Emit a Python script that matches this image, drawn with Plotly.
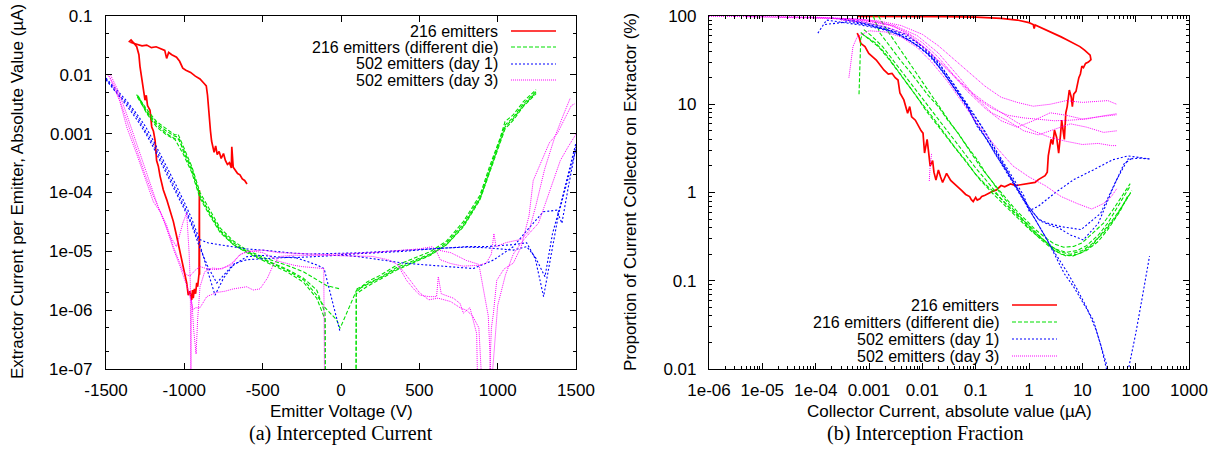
import plotly.graph_objects as go

# ================= (a) Intercepted Current =================
# Emitter voltage (V) vs extractor current per emitter (uA)
red_top_v = [-1355, -1340, -1320, -1300, -1270, -1240, -1210, -1180, -1150, -1125, -1113, -1100, -1080, -1050, -1030, -1010, -990, -960, -930, -900, -875, -860, -852, -846, -840, -833, -826, -818, -810, -800, -790, -778, -765, -750, -738, -725, -712, -700, -697, -688, -675, -660, -645, -630, -615, -600]
red_top_i = [0.036, 0.039, 0.034, 0.033, 0.031, 0.032, 0.029, 0.030, 0.028, 0.026, 0.019, 0.024, 0.022, 0.020, 0.017, 0.013, 0.012, 0.011, 0.0095, 0.0085, 0.0072, 0.0065, 0.0045, 0.0025, 0.0016, 0.0011, 0.00075, 0.00055, 0.00048, 0.00062, 0.00044, 0.00050, 0.00038, 0.00046, 0.00035, 0.00030, 0.00032, 0.00026, 0.00060, 0.00027, 0.00024, 0.00021, 0.00020, 0.00017, 0.00016, 0.00014]
red_dn_v = [-1345, -1320, -1304, -1290, -1283, -1270, -1262, -1251, -1243, -1235, -1219, -1208, -1197, -1187, -1177, -1166, -1155, -1134, -1112, -1091, -1070, -1049, -1033, -1017, -1001, -985, -975, -965, -953, -948, -943, -936, -928, -921, -915, -911, -906, -904, -903]
red_dn_i = [0.036, 0.034, 0.030, 0.022, 0.0138, 0.0085, 0.0055, 0.0037, 0.0045, 0.0030, 0.0025, 0.0013, 0.0011, 0.00078, 0.00035, 0.00028, 0.00019, 0.00011, 0.000075, 0.00005, 0.000032, 0.000018, 0.000011, 0.0000071, 0.0000045, 0.0000029, 0.0000018, 0.0000021, 0.0000015, 0.0000022, 0.0000016, 0.0000023, 0.0000019, 0.0000029, 0.0000025, 0.0000037, 0.0000042, 0.00011, 0.0000040]

grn1_neg_v = [-1305, -1240, -1177, -1113, -1060, -1040, -1007, -953, -900, -836, -772, -687, -602, -474, -347, -240, -155, -90, -5]
grn1_neg_i = [0.0046, 0.0026, 0.0016, 0.0012, 0.00095, 0.00098, 0.00060, 0.00028, 0.00010, 0.000050, 0.000025, 0.000015, 0.0000105, 0.0000075, 0.0000058, 0.0000045, 0.0000033, 0.0000026, 0.0000023]
grn1_pos_v = [96, 97, 164, 249, 355, 461, 568, 674, 781, 887, 951, 1014, 1047, 1100, 1164, 1245]
grn1_pos_i = [0.00000005, 0.0000020, 0.0000030, 0.0000039, 0.0000058, 0.0000075, 0.0000098, 0.000015, 0.000032, 0.000090, 0.00029, 0.00082, 0.0016, 0.0021, 0.0035, 0.0056]
grn2_neg_v = [-1300, -1240, -1177, -1113, -1060, -1030, -1007, -953, -900, -836, -772, -687, -602, -474, -347, -240, -155, -102, -100]
grn2_neg_i = [0.0042, 0.0023, 0.0014, 0.0010, 0.00082, 0.00080, 0.00050, 0.00024, 0.000085, 0.000045, 0.000023, 0.000014, 0.0000100, 0.0000070, 0.0000050, 0.0000035, 0.0000022, 0.0000009, 0.00000005]
grn2_pos_v = [100, 164, 249, 355, 461, 568, 674, 781, 887, 951, 1014, 1047, 1100, 1164, 1245]
grn2_pos_i = [0.0000023, 0.0000028, 0.0000036, 0.0000053, 0.0000069, 0.0000090, 0.000014, 0.000029, 0.000082, 0.00026, 0.00075, 0.0014, 0.0019, 0.0032, 0.0052]
grn3_neg_v = [-1295, -1240, -1177, -1113, -1060, -1045, -1007, -953, -900, -836, -772, -687, -602, -474, -347, -240, -155, -102, -27, -6]
grn3_neg_i = [0.0044, 0.0024, 0.0015, 0.0011, 0.00090, 0.00088, 0.00055, 0.00026, 0.000090, 0.000043, 0.000022, 0.000013, 0.0000098, 0.0000068, 0.0000048, 0.0000033, 0.0000018, 0.0000011, 0.00000068, 0.00000049]
grn3_pos_v = [100, 164, 249, 355, 461, 568, 674, 781, 887, 951, 1014, 1047, 1100, 1164, 1245]
grn3_pos_i = [0.0000022, 0.0000027, 0.0000035, 0.0000050, 0.0000066, 0.0000087, 0.000013, 0.000027, 0.000078, 0.00024, 0.00070, 0.0013, 0.0018, 0.0030, 0.0050]
grn4_neg_v = [-1290, -1240, -1177, -1113, -1060, -1007, -953, -900, -836, -772, -687, -602, -474, -347, -240, -155, -102, -100]
grn4_neg_i = [0.0040, 0.0022, 0.0013, 0.00095, 0.00080, 0.00045, 0.00022, 0.000080, 0.000040, 0.000021, 0.000013, 0.0000095, 0.0000065, 0.0000045, 0.0000030, 0.0000016, 0.0000007, 0.00000005]
grn4_pos_v = [96, 98, 164, 249, 355, 461, 568, 674, 781, 887, 951, 1014, 1047, 1100, 1164, 1245]
grn4_pos_i = [0.00000005, 0.0000019, 0.0000025, 0.0000033, 0.0000048, 0.0000064, 0.0000085, 0.000013, 0.000026, 0.000075, 0.00023, 0.00066, 0.0012, 0.0017, 0.0029, 0.0048]

blu1_v = [-1500, -1430, -1368, -1300, -1246, -1200, -1148, -1100, -1051, -1000, -953, -904, -850, -780, -700, -602, -500, -400, -300, -200, -100, 0, 100, 200, 300, 400, 500, 610, 700, 800, 930, 1000, 1100, 1185, 1240, 1293, 1340, 1390, 1440, 1500]
blu1_i = [0.0088, 0.0055, 0.0036, 0.0021, 0.0013, 0.00078, 0.00042, 0.00024, 0.00013, 0.000068, 0.000036, 0.000016, 0.000014, 0.000013, 0.000012, 0.000011, 0.0000105, 0.0000098, 0.0000093, 0.0000090, 0.0000091, 0.0000092, 0.0000094, 0.0000097, 0.0000100, 0.0000104, 0.0000108, 0.000011, 0.0000115, 0.000012, 0.000012, 0.0000125, 0.000013, 0.000014, 0.0000075, 0.0000017, 0.000008, 0.000045, 0.00014, 0.00055]
blu2_v = [-1500, -1430, -1368, -1300, -1246, -1200, -1148, -1100, -1051, -1000, -953, -904, -850, -793, -700, -602, -500, -400, -300, -200, -100, 0, 100, 200, 300, 400, 500, 600, 700, 845, 973, 1040, 1100, 1200, 1291, 1377, 1410, 1450, 1500]
blu2_i = [0.0082, 0.0048, 0.0030, 0.0017, 0.0010, 0.00060, 0.00032, 0.00018, 0.00010, 0.000052, 0.000028, 0.000012, 0.0000055, 0.0000029, 0.0000055, 0.0000081, 0.0000085, 0.0000080, 0.0000078, 0.0000080, 0.0000083, 0.0000086, 0.0000082, 0.0000075, 0.0000068, 0.0000063, 0.0000060, 0.0000057, 0.0000054, 0.0000051, 0.0000071, 0.0000095, 0.000012, 0.000025, 0.000047, 0.000050, 0.000030, 0.00012, 0.00060]
blu3_v = [-1500, -1430, -1368, -1300, -1246, -1200, -1148, -1100, -1051, -1000, -953, -904, -850, -804, -750, -680, -602, -500, -400, -300, -200, -150, -108, -6]
blu3_i = [0.0085, 0.0050, 0.0033, 0.0019, 0.0011, 0.00068, 0.00036, 0.00020, 0.00011, 0.000058, 0.000030, 0.000014, 0.0000045, 0.0000018, 0.0000035, 0.0000062, 0.0000072, 0.0000075, 0.0000078, 0.0000080, 0.0000065, 0.0000058, 0.0000051, 0.00000043]
blu4_v = [0, 200, 400, 610, 800, 930, 1000, 1100, 1185, 1240, 1302, 1350, 1400, 1450, 1500]
blu4_i = [0.0000088, 0.0000095, 0.000010, 0.0000112, 0.0000118, 0.0000115, 0.000011, 0.0000105, 0.000012, 0.000008, 0.0000037, 0.00002, 0.00006, 0.0002, 0.0007]

mag1_v = [-1490, -1474, -1411, -1368, -1304, -1240, -1198, -1150, -1113, -1070, -1028, -1007, -985, -964, -930, -900, -850, -790, -700, -650, -600, -500, -400, -300, -200, -100, 0, 100, 200, 300, 400, 500, 585, 610, 633, 700, 780, 880, 927, 960, 976, 990, 1050, 1100, 1150, 1200, 1244, 1300, 1366, 1420, 1463]
mag1_i = [0.0100, 0.0088, 0.0035, 0.0013, 0.00045, 0.00015, 0.00007, 0.000045, 0.000028, 0.000012, 0.0000065, 0.0000045, 0.0000040, 0.0000038, 0.0000048, 0.0000055, 0.0000050, 0.0000049, 0.0000058, 0.0000085, 0.0000100, 0.0000105, 0.0000095, 0.0000092, 0.0000090, 0.0000088, 0.0000090, 0.0000092, 0.0000095, 0.0000100, 0.0000105, 0.0000110, 0.0000120, 0.0000100, 0.0000072, 0.0000062, 0.0000056, 0.0000058, 0.0000063, 0.000009, 0.000020, 0.000012, 0.000014, 0.000015, 0.000016, 0.000022, 0.000060, 0.00025, 0.0009, 0.0021, 0.0040]
mag2_v = [-1480, -1440, -1400, -1350, -1300, -1250, -1200, -1150, -1100, -1050, -1010, -985, -970, -962, -958, -955, -945, -930, -900, -857, -793, -740, -687, -640, -602, -560, -517, -470, -432, -389, -300, -200, -100, 0, 100, 200, 300, 360, 419, 470, 504, 560, 610, 621, 640, 717, 760, 781, 823, 850, 866, 872]
mag2_i = [0.0095, 0.0060, 0.0030, 0.0012, 0.00050, 0.00020, 0.000090, 0.000045, 0.000020, 0.000012, 0.000030, 0.000045, 0.000010, 0.0000030, 0.00000005, 0.0000015, 0.0000010, 0.0000011, 0.0000011, 0.0000017, 0.0000020, 0.0000021, 0.0000023, 0.0000024, 0.0000025, 0.0000022, 0.0000023, 0.0000035, 0.0000059, 0.0000082, 0.0000086, 0.0000085, 0.0000086, 0.0000084, 0.0000083, 0.0000082, 0.0000072, 0.0000060, 0.0000032, 0.0000022, 0.0000018, 0.0000017, 0.0000017, 0.0000037, 0.0000019, 0.0000016, 0.0000013, 0.00000089, 0.0000011, 0.00000060, 0.00000040, 0.00000005]
mag3_v = [-1470, -1420, -1370, -1320, -1270, -1220, -1170, -1120, -1070, -1030, -1000, -975, -950, -940, -925, -915, -900, -870, -820, -760, -700, -640, -600, -550, -500, -450, -400, -350, -300, -250, -200, -150, -110, -105]
mag3_i = [0.0098, 0.0052, 0.0022, 0.00090, 0.00035, 0.00014, 0.000060, 0.000028, 0.000011, 0.0000058, 0.0000035, 0.0000022, 0.0000012, 0.00000045, 0.00000018, 0.00000070, 0.0000025, 0.0000045, 0.0000052, 0.0000050, 0.0000062, 0.0000090, 0.0000098, 0.0000100, 0.0000095, 0.0000082, 0.0000068, 0.0000062, 0.0000058, 0.0000055, 0.0000054, 0.0000052, 0.0000051, 0.00000005]
mag4_v = [360, 400, 450, 500, 560, 620, 700, 760, 800, 840, 880, 900, 930, 945, 951, 960, 973, 994, 1040, 1100, 1150, 1200, 1227, 1280, 1330, 1380, 1430, 1470, 1490]
mag4_i = [0.0000060, 0.0000045, 0.0000030, 0.0000020, 0.0000015, 0.0000016, 0.0000014, 0.0000011, 0.0000010, 0.0000008, 0.0000005, 0.00000005, 0.00000005, 0.00000005, 0.00000012, 0.0000005, 0.00000089, 0.0000032, 0.0000050, 0.0000063, 0.000012, 0.00004, 0.00016, 0.00035, 0.0007, 0.0010, 0.0018, 0.0030, 0.0032]
mag5_v = [620, 700, 800, 880, 940, 960, 1000, 1050, 1100, 1150, 1200, 1260, 1300, 1350, 1400, 1450, 1500]
mag5_i = [0.0000105, 0.0000095, 0.0000070, 0.0000060, 0.00000080, 0.00000005, 0.0000012, 0.0000040, 0.0000090, 0.000014, 0.000020, 0.000030, 0.000060, 0.00015, 0.00035, 0.00060, 0.00098]

# ================= (b) Interception Fraction =================
# Collector current (uA) vs proportion on extractor (%)
red_r_x = [0.0006, 0.001, 0.003, 0.01, 0.03, 0.1, 0.3, 0.6, 1.0, 1.2, 1.25, 1.3, 1.5, 2.0, 3.0, 4.0, 5.0, 7.0, 9.0, 11.0, 12.5, 14.0, 14.5, 13.0, 11.5, 10.5, 9.8, 9.2, 8.6, 8.2, 7.6, 6.9, 6.5, 6.2, 5.7, 5.2, 4.9, 4.6, 4.1, 3.9, 3.6, 3.3, 3.0, 2.8, 2.6, 2.3, 2.2, 2.0, 1.8, 1.5, 1.3, 1.1, 0.88, 0.7, 0.57, 0.45, 0.35, 0.3, 0.245, 0.2, 0.18, 0.15, 0.13, 0.12, 0.107, 0.1, 0.09, 0.083, 0.077, 0.065, 0.055, 0.047, 0.04, 0.034, 0.0285, 0.026, 0.024, 0.022, 0.02, 0.018, 0.0165, 0.0156, 0.014, 0.013, 0.0123, 0.011, 0.0103, 0.0095, 0.0087, 0.0074, 0.0063, 0.0058, 0.0053, 0.0045, 0.0038, 0.0035, 0.0031, 0.0027, 0.0023, 0.0019, 0.0016, 0.00137, 0.0012, 0.00099, 0.00084, 0.0007, 0.00065, 0.0006]
red_r_y = [99, 99, 99, 98.8, 98.3, 97, 94, 90, 84, 80, 72, 79, 76, 70, 64, 58, 54, 49, 45, 41, 38, 36, 32, 30, 29, 26, 27, 22, 20, 17, 14, 13, 9.4, 12, 14.5, 9.4, 8, 4, 6.6, 4.5, 2.8, 4.2, 5.1, 3.5, 4.0, 2.6, 1.7, 1.55, 1.5, 1.4, 1.3, 1.28, 1.26, 1.22, 1.2, 1.25, 1.16, 1.2, 1.07, 1.02, 0.98, 0.93, 0.9, 0.85, 0.82, 0.88, 0.79, 0.83, 0.9, 0.95, 1.05, 1.16, 1.25, 1.37, 1.65, 1.45, 1.3, 1.5, 1.8, 1.38, 1.7, 2.3, 2.0, 3.0, 4.0, 2.8, 4.7, 5.0, 5.6, 6.6, 7.2, 9.4, 7.9, 11.2, 13.4, 18.8, 20, 22.4, 22, 24.5, 28, 31.7, 34, 37.7, 45, 49, 58, 64]

grn_r1_x = [0.0012, 0.0016, 0.0025, 0.0038, 0.0060, 0.0087, 0.013, 0.02, 0.03, 0.047, 0.07, 0.107, 0.16, 0.245, 0.38, 0.57, 0.9, 1.31, 2.0, 3.0, 4.5, 6.9, 10, 16, 25, 37, 55, 79]
grn_r1_y = [100, 64, 45, 32, 23, 17.4, 12.5, 9.4, 6.6, 4.7, 3.3, 2.35, 1.6, 1.16, 0.85, 0.63, 0.48, 0.38, 0.31, 0.26, 0.24, 0.245, 0.27, 0.35, 0.45, 0.63, 0.9, 1.26]
grn_r2_x = [0.0007, 0.0010, 0.0015, 0.0025, 0.004, 0.0065, 0.01, 0.016, 0.025, 0.04, 0.065, 0.1, 0.16, 0.25, 0.4, 0.65, 1.0, 1.6, 2.5, 4.0, 6.5, 10, 16, 25, 40, 65, 85]
grn_r2_y = [65, 55, 45, 31, 21, 14.5, 10, 7, 4.8, 3.3, 2.3, 1.6, 1.2, 0.95, 0.7, 0.52, 0.4, 0.3, 0.24, 0.2, 0.19, 0.21, 0.26, 0.36, 0.52, 0.8, 1.05]
grn_r3_x = [0.00065, 0.00068, 0.0007, 0.00075, 0.0009, 0.0013, 0.002, 0.003, 0.005, 0.008, 0.012, 0.02, 0.03, 0.05, 0.08, 0.12, 0.2, 0.3, 0.5, 0.8, 1.2, 2.0, 3.0, 5.0, 8.0, 12, 20, 30, 50, 70]
grn_r3_y = [13, 30, 55, 62, 58, 50, 38, 27, 18, 12, 8.3, 5.6, 4.0, 2.7, 1.9, 1.4, 1.0, 0.78, 0.58, 0.44, 0.35, 0.28, 0.22, 0.19, 0.2, 0.22, 0.28, 0.38, 0.6, 0.9]
grn_r4_x = [0.0015, 0.002, 0.003, 0.005, 0.008, 0.012, 0.02, 0.03, 0.05, 0.08, 0.12, 0.2, 0.3, 0.5, 0.8, 1.2, 2.0, 3.0, 5.0, 8.0, 12, 20, 30, 50, 80]
grn_r4_y = [100, 75, 52, 33, 22, 15, 9.8, 6.8, 4.4, 2.9, 2.0, 1.35, 0.95, 0.65, 0.48, 0.37, 0.28, 0.23, 0.21, 0.22, 0.25, 0.33, 0.45, 0.75, 1.2]
grn_r5_x = [0.0008, 0.0011, 0.0018, 0.003, 0.005, 0.008, 0.013, 0.02, 0.035, 0.06, 0.1, 0.17, 0.3, 0.5, 0.9, 1.5, 2.5, 4, 6, 10, 15, 25, 40, 60, 80]
grn_r5_y = [70, 60, 45, 30, 20, 14, 9.5, 6.8, 4.3, 2.8, 1.9, 1.3, 0.85, 0.62, 0.45, 0.33, 0.25, 0.21, 0.2, 0.22, 0.26, 0.35, 0.5, 0.75, 1.0]

blu_r1_x = [0.00011, 0.00016, 0.0003, 0.0007, 0.0016, 0.0038, 0.0087, 0.0144, 0.02, 0.031, 0.047, 0.071, 0.107, 0.163, 0.245, 0.37, 0.57, 0.86, 1.31, 2.0, 3.0, 4.6, 6.9, 10.5, 16, 22, 29]
blu_r1_y = [64, 90, 85, 79, 72, 61, 45, 35, 27, 19, 13.3, 9.4, 5.6, 4.0, 2.6, 1.8, 1.16, 0.75, 0.49, 0.32, 0.2, 0.12, 0.085, 0.056, 0.036, 0.019, 0.0095]
blu_r2_x = [0.0002, 0.0005, 0.001, 0.002, 0.004, 0.008, 0.013, 0.02, 0.03, 0.05, 0.08, 0.12, 0.2, 0.3, 0.5, 0.8, 1.0, 1.5, 3.0, 6.9, 16, 37, 72, 120, 182]
blu_r2_y = [95, 88, 80, 72, 63, 50, 40, 30, 21, 13, 8.5, 6.0, 3.6, 2.4, 1.45, 0.92, 0.62, 0.70, 0.98, 1.4, 1.8, 2.35, 2.6, 2.5, 2.4]
blu_r3_x = [0.0003, 0.0008, 0.0016, 0.0035, 0.008, 0.015, 0.025, 0.04, 0.065, 0.1, 0.16, 0.25, 0.4, 0.65, 1.0, 1.5, 2.2, 4.0, 9.5, 22, 44, 72, 120, 182]
blu_r3_y = [93, 82, 74, 63, 47, 34, 23, 15, 10, 6.2, 4.1, 2.7, 1.7, 1.05, 0.68, 0.5, 0.45, 0.41, 0.38, 0.58, 1.4, 2.4, 2.45, 2.4]
blu_r4_x = [0.0005, 0.001, 0.002, 0.005, 0.01, 0.02, 0.04, 0.08, 0.15, 0.3, 0.6, 1.0, 1.6, 2.6, 3.5, 6.0, 10.5, 20, 37, 60, 90]
blu_r4_y = [90, 82, 75, 62, 45, 29, 16.5, 8.8, 4.9, 2.3, 1.1, 0.68, 0.48, 0.42, 0.4, 0.33, 0.29, 0.45, 1.1, 2.1, 2.5]
blu_r5_x = [0.00015, 0.0004, 0.001, 0.0025, 0.006, 0.012, 0.025, 0.05, 0.1, 0.2, 0.4, 0.8, 1.5, 3.0, 5.0, 8.0, 12, 18, 25, 31]
blu_r5_y = [80, 86, 78, 68, 52, 38, 23, 12.5, 6.4, 3.2, 1.6, 0.82, 0.43, 0.21, 0.13, 0.08, 0.05, 0.028, 0.015, 0.0095]
blu_r6_x = [72, 100, 130, 160, 182]
blu_r6_y = [0.0095, 0.025, 0.06, 0.12, 0.19]

mag_r1_x = [1e-6, 3e-6, 1e-5, 3e-5, 1e-4, 0.0003, 0.0007, 0.0015, 0.003, 0.006, 0.012, 0.025, 0.05, 0.1, 0.2, 0.4, 0.8, 1.5, 3, 6, 12, 25, 44]
mag_r1_y = [99, 99, 98.5, 98, 97, 95, 92, 86, 76, 60, 42, 27, 18, 12, 9, 7.5, 7.0, 6.8, 6.5, 6.6, 6.8, 7.4, 7.8]
mag_r2_x = [5e-6, 2e-5, 8e-5, 0.0002, 0.0006, 0.0012, 0.0025, 0.005, 0.01, 0.02, 0.04, 0.08, 0.15, 0.3, 0.6, 1.2, 2.5, 5, 10, 20, 35, 44]
mag_r2_y = [98, 97, 96, 94, 90, 85, 78, 66, 50, 34, 21, 14, 10.5, 8, 6.2, 5.0, 4.2, 3.8, 3.5, 3.6, 3.4, 3.4]
mag_r3_x = [0.00042, 0.0005, 0.0006, 0.001, 0.002, 0.004, 0.008, 0.015, 0.03, 0.06, 0.12, 0.25, 0.5, 1.0, 2.0, 4.0, 8.0, 15, 25, 35, 44]
mag_r3_y = [20, 45, 58, 68, 66, 58, 44, 30, 18, 10, 5.5, 3.2, 2.0, 1.5, 1.2, 0.9, 0.75, 0.65, 0.75, 0.9, 1.1]
mag_r4_x = [2e-5, 1e-4, 0.0005, 0.0015, 0.004, 0.01, 0.02, 0.04, 0.08, 0.15, 0.3, 0.6, 1.2, 2.5, 5, 10, 20, 30, 44]
mag_r4_y = [97, 96, 93, 88, 78, 62, 46, 32, 22, 16, 12, 10.5, 9.5, 10, 11, 10.5, 10.8, 11, 10]
mag_r5_x = [0.0001, 0.0004, 0.001, 0.003, 0.008, 0.02, 0.05, 0.1, 0.2, 0.4, 0.8, 1.5, 3, 6, 12, 25, 44]
mag_r5_y = [95, 92, 88, 78, 60, 38, 20, 12, 8, 6.5, 5.0, 4.5, 5.2, 6.0, 5.5, 4.8, 5.0]
mag_r6_x = [0.0003, 0.0008, 0.002, 0.005, 0.012, 0.03, 0.07, 0.15, 0.3, 0.6, 1.2, 2.5, 5, 10, 20, 44]
mag_r6_y = [90, 85, 76, 62, 42, 25, 14, 9, 6.5, 5.5, 6.5, 8, 7.5, 6.8, 7.2, 7.6]
mag_r7_x = [0.0135, 0.014, 0.015]
mag_r7_y = [1.35, 2.0, 2.8]

# ---------- labels ----------
series_names = ["216 emitters", "216 emitters (different die)", "502 emitters (day 1)", "502 emitters (day 3)"]
left_xticks = [-1500, -1000, -500, 0, 500, 1000, 1500]
left_yticks = [1e-7, 1e-6, 1e-5, 1e-4, 1e-3, 1e-2, 1e-1]
left_yticktext = ["1e-07", "1e-06", "1e-05", "1e-04", "0.001", "0.01", "0.1"]
right_xticks = [1e-6, 1e-5, 1e-4, 1e-3, 1e-2, 1e-1, 1, 10, 100, 1000]
right_xticktext = ["1e-06", "1e-05", "1e-04", "0.001", "0.01", "0.1", "1", "10", "100", "1000"]
right_yticks = [0.01, 0.1, 1, 10, 100]
right_yticktext = ["0.01", "0.1", "1", "10", "100"]

# ---------- styles ----------
STY = [
    dict(color="#ff0000", width=1.7, dash="solid"),
    dict(color="#00e000", width=1.1, dash="4px,2px"),
    dict(color="#0000ff", width=1.1, dash="2px,2px"),
    dict(color="#ff00ff", width=1.0, dash="1px,1px"),
]
SANS = "Liberation Sans, Arial, Helvetica, sans-serif"
SERIF = "Liberation Serif, Times New Roman, serif"

W, H = 1217, 459
def px(x):
    return x / W
def py(y):
    return 1 - y / H

fig = go.Figure()

def add(xs, ys, k, xa, ya):
    fig.add_trace(go.Scatter(x=xs, y=ys, mode="lines", line=STY[k], xaxis=xa, yaxis=ya,
                             showlegend=False, hoverinfo="skip", connectgaps=False))

# left panel
add(red_top_v, red_top_i, 0, "x", "y")
add(red_dn_v, red_dn_i, 0, "x", "y")
add(grn1_neg_v + [None] + grn1_pos_v, grn1_neg_i + [None] + grn1_pos_i, 1, "x", "y")
add(grn2_neg_v + [None] + grn2_pos_v, grn2_neg_i + [None] + grn2_pos_i, 1, "x", "y")
add(grn3_neg_v + grn3_pos_v, grn3_neg_i + grn3_pos_i, 1, "x", "y")
add(grn4_neg_v + [None] + grn4_pos_v, grn4_neg_i + [None] + grn4_pos_i, 1, "x", "y")
for xs, ys in [(blu1_v, blu1_i), (blu2_v, blu2_i), (blu3_v, blu3_i), (blu4_v, blu4_i)]:
    add(xs, ys, 2, "x", "y")
for xs, ys in [(mag1_v, mag1_i), (mag2_v, mag2_i), (mag3_v, mag3_i), (mag4_v, mag4_i), (mag5_v, mag5_i)]:
    add(xs, ys, 3, "x", "y")

# right panel
add(red_r_x, red_r_y, 0, "x2", "y2")
for xs, ys in [(grn_r1_x, grn_r1_y), (grn_r2_x, grn_r2_y), (grn_r3_x, grn_r3_y), (grn_r4_x, grn_r4_y), (grn_r5_x, grn_r5_y)]:
    add(xs, ys, 1, "x2", "y2")
for xs, ys in [(blu_r1_x, blu_r1_y), (blu_r2_x, blu_r2_y), (blu_r3_x, blu_r3_y), (blu_r4_x, blu_r4_y), (blu_r5_x, blu_r5_y), (blu_r6_x, blu_r6_y)]:
    add(xs, ys, 2, "x2", "y2")
for xs, ys in [(mag_r1_x, mag_r1_y), (mag_r2_x, mag_r2_y), (mag_r3_x, mag_r3_y), (mag_r4_x, mag_r4_y), (mag_r5_x, mag_r5_y), (mag_r6_x, mag_r6_y), (mag_r7_x, mag_r7_y)]:
    add(xs, ys, 3, "x2", "y2")

# ---------- axes ----------
ydom = [py(369), py(16)]
base = dict(showline=True, linecolor="black", linewidth=1.2, mirror="allticks", ticks="inside",
            ticklen=6, tickwidth=1, tickcolor="black", showgrid=False, zeroline=False,
            tickfont=dict(family=SANS, size=17, color="black"), tickmode="array", automargin=False)

fig.update_layout(
    xaxis=dict(base, domain=[px(106), px(576)], range=[-1500, 1500], anchor="y",
               tickvals=left_xticks, ticktext=[str(v) for v in left_xticks], ticklabelstandoff=5),
    yaxis=dict(base, domain=ydom, type="log", range=[-7, -1], anchor="x",
               tickvals=left_yticks, ticktext=left_yticktext, ticklabelstandoff=9,
               minor=dict(ticks="inside", ticklen=3, tickcolor="black", dtick="D2", showgrid=False)),
    xaxis2=dict(base, domain=[px(709), px(1189)], type="log", range=[-6, 3], anchor="y2",
                tickvals=right_xticks, ticktext=right_xticktext, ticklabelstandoff=5,
                minor=dict(ticks="inside", ticklen=3, tickcolor="black", dtick="D1", showgrid=False)),
    yaxis2=dict(base, domain=ydom, type="log", range=[-2, 2], anchor="x2",
                tickvals=right_yticks, ticktext=right_yticktext, ticklabelstandoff=8,
                minor=dict(ticks="inside", ticklen=3, tickcolor="black", dtick="D1", showgrid=False)),
    width=W, height=H, margin=dict(l=0, r=0, t=0, b=0, autoexpand=False),
    paper_bgcolor="white", plot_bgcolor="white", showlegend=False,
)

ann = []
shapes = []
# axis titles
ann.append(dict(x=px(341), y=py(411), text="Emitter Voltage (V)"))
ann.append(dict(x=px(949), y=py(411), text="Collector Current, absolute value (\u00b5A)"))
ann.append(dict(x=px(17), y=py(192), text="Extractor Current per Emitter, Absolute Value (\u00b5A)", textangle=-90))
ann.append(dict(x=px(630), y=py(192), text="Proportion of Current Collector on Extractor (%)", textangle=-90))
for a in ann:
    a.update(xref="paper", yref="paper", showarrow=False, xanchor="center", yanchor="middle",
             font=dict(family=SANS, size=17, color="black"))
# captions
for cx, txt in [(341, "(a) Intercepted Current"), (925, "(b) Interception Fraction")]:
    ann.append(dict(x=px(cx), y=py(433), text=txt, xref="paper", yref="paper", showarrow=False,
                    xanchor="center", yanchor="middle", font=dict(family=SERIF, size=20, color="black")))
# manual legends (gnuplot style: text right-aligned, sample on the right)
for text_right, l0, l1, rows in [(499, 511, 556, [31, 47, 64, 80]),
                                 (1000, 1012, 1057, [305, 322, 339, 356])]:
    for k, (name, yy) in enumerate(zip(series_names, rows)):
        ann.append(dict(x=px(text_right), y=py(yy), text=name, xref="paper", yref="paper",
                        showarrow=False, xanchor="right", yanchor="middle", borderpad=0,
                        font=dict(family=SANS, size=16, color="black")))
        shapes.append(dict(type="line", xref="paper", yref="paper", x0=px(l0), x1=px(l1),
                           y0=py(yy), y1=py(yy), line=STY[k]))
fig.update_layout(annotations=ann, shapes=shapes)

fig.write_html("out.html", config={"displayModeBar": False},
               post_script="document.body.style.margin='0';document.body.style.overflow='hidden';")
